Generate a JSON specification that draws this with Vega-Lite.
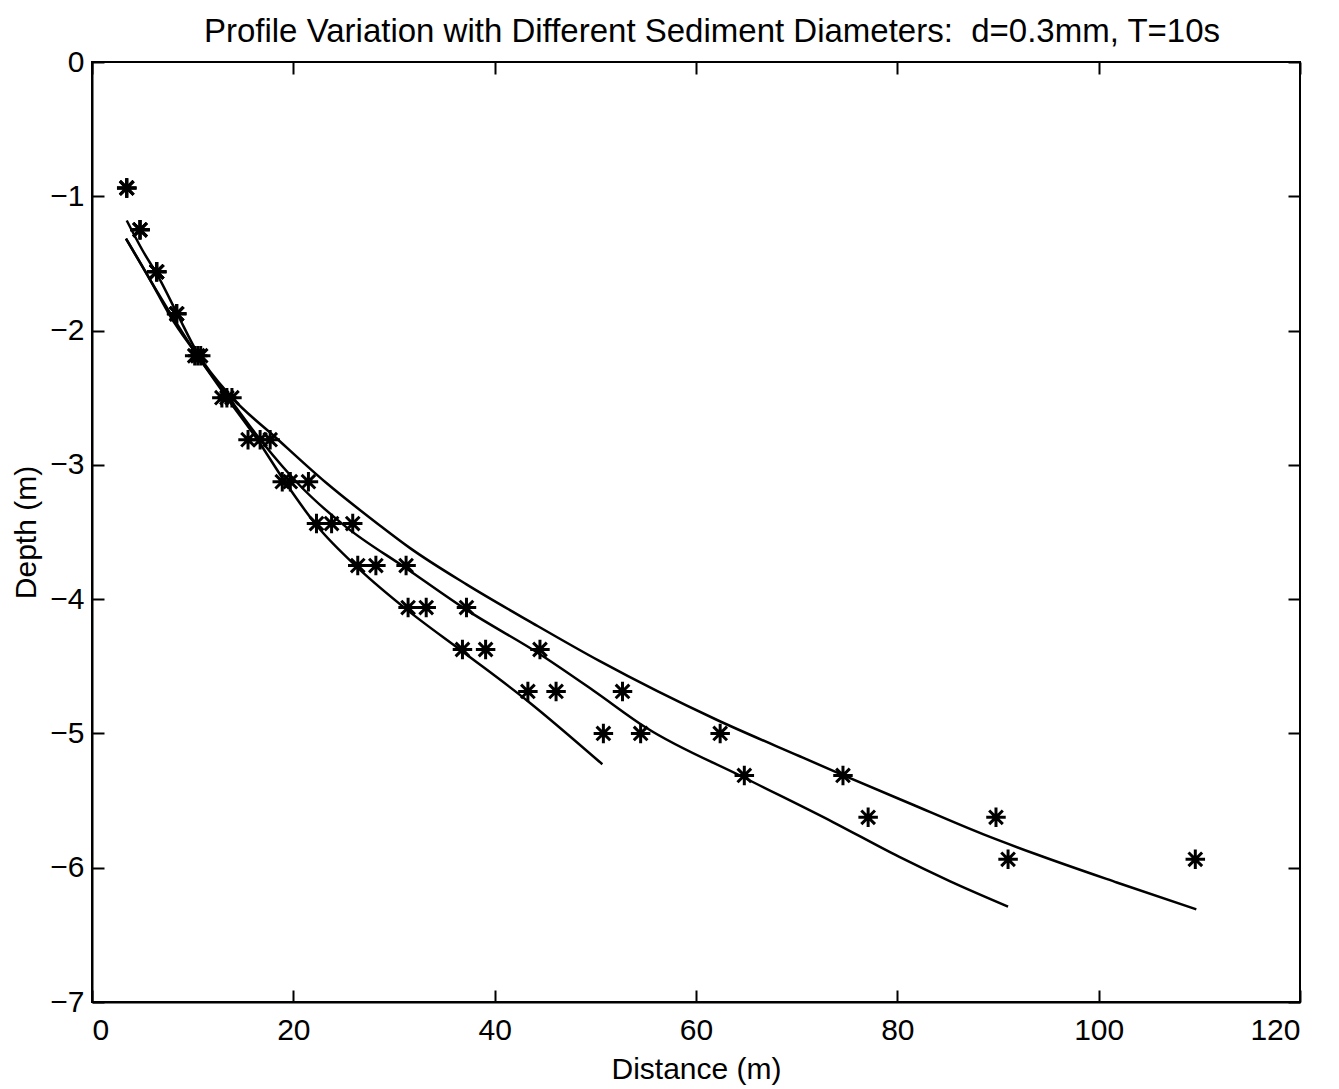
{
  "$schema": "https://vega.github.io/schema/vega-lite/v6.json",
  "width": 1208,
  "height": 940,
  "autosize": {"type": "none"},
  "padding": {"left": 92, "top": 62, "right": 39, "bottom": 87},
  "background": "white",
  "title": {
    "text": "Profile Variation with Different Sediment Diameters:\u00a0 d=0.3mm, T=10s",
    "font": "Liberation Sans",
    "fontSize": 33,
    "fontWeight": "normal",
    "color": "black",
    "offset": -2,
    "dx": 16
  },
  "config": {
    "view": {"stroke": "black", "strokeWidth": 2},
    "axis": {
      "grid": false,
      "domainColor": "black",
      "domainWidth": 2,
      "tickColor": "black",
      "tickWidth": 2,
      "tickSize": -12,
      "labelFont": "Liberation Sans",
      "labelFontSize": 30,
      "labelColor": "black",
      "titleFont": "Liberation Sans",
      "titleFontSize": 30,
      "titleFontWeight": "normal",
      "titleColor": "black"
    }
  },
  "datasets": {
    "lines": [
      {"curve": "1", "x": 3.38, "y": -1.316},
      {"curve": "1", "x": 5.76, "y": -1.62},
      {"curve": "1", "x": 7.75, "y": -1.89},
      {"curve": "1", "x": 10.5, "y": -2.19},
      {"curve": "1", "x": 13.4, "y": -2.5},
      {"curve": "1", "x": 16.5, "y": -2.82},
      {"curve": "1", "x": 19.2, "y": -3.13},
      {"curve": "1", "x": 22.3, "y": -3.45},
      {"curve": "1", "x": 26.6, "y": -3.78},
      {"curve": "1", "x": 31.3, "y": -4.08},
      {"curve": "1", "x": 36.8, "y": -4.39},
      {"curve": "1", "x": 43.3, "y": -4.76},
      {"curve": "1", "x": 50.7, "y": -5.23},
      {"curve": "2", "x": 3.38, "y": -1.316},
      {"curve": "2", "x": 5.76, "y": -1.62},
      {"curve": "2", "x": 7.94, "y": -1.89},
      {"curve": "2", "x": 10.5, "y": -2.19},
      {"curve": "2", "x": 13.6, "y": -2.5},
      {"curve": "2", "x": 16.9, "y": -2.83},
      {"curve": "2", "x": 20.6, "y": -3.15},
      {"curve": "2", "x": 25.2, "y": -3.46},
      {"curve": "2", "x": 31.2, "y": -3.77},
      {"curve": "2", "x": 37.2, "y": -4.08},
      {"curve": "2", "x": 44.5, "y": -4.41},
      {"curve": "2", "x": 49.8, "y": -4.68},
      {"curve": "2", "x": 55.1, "y": -4.96},
      {"curve": "2", "x": 64.8, "y": -5.33},
      {"curve": "2", "x": 73.6, "y": -5.66},
      {"curve": "2", "x": 80.2, "y": -5.92},
      {"curve": "2", "x": 85.2, "y": -6.1},
      {"curve": "2", "x": 91.0, "y": -6.29},
      {"curve": "3", "x": 3.45, "y": -1.18},
      {"curve": "3", "x": 5.0, "y": -1.4},
      {"curve": "3", "x": 6.6, "y": -1.6},
      {"curve": "3", "x": 8.5, "y": -1.88},
      {"curve": "3", "x": 10.5, "y": -2.17},
      {"curve": "3", "x": 13.8, "y": -2.49},
      {"curve": "3", "x": 18.3, "y": -2.8},
      {"curve": "3", "x": 23.2, "y": -3.13},
      {"curve": "3", "x": 28.4, "y": -3.44},
      {"curve": "3", "x": 31.6, "y": -3.62},
      {"curve": "3", "x": 37.2, "y": -3.89},
      {"curve": "3", "x": 43.8, "y": -4.18},
      {"curve": "3", "x": 50.4, "y": -4.46},
      {"curve": "3", "x": 62.1, "y": -4.9},
      {"curve": "3", "x": 70.3, "y": -5.17},
      {"curve": "3", "x": 74.6, "y": -5.31},
      {"curve": "3", "x": 81.2, "y": -5.52},
      {"curve": "3", "x": 88.5, "y": -5.75},
      {"curve": "3", "x": 93.8, "y": -5.9},
      {"curve": "3", "x": 101.8, "y": -6.11},
      {"curve": "3", "x": 109.7, "y": -6.31}
    ],
    "points": [
      {"series": "a", "x": 3.45, "y": -0.9375},
      {"series": "b", "x": 3.45, "y": -0.9375},
      {"series": "c", "x": 3.45, "y": -0.9375},
      {"series": "a", "x": 4.77, "y": -1.25},
      {"series": "b", "x": 4.77, "y": -1.25},
      {"series": "c", "x": 4.77, "y": -1.25},
      {"series": "a", "x": 6.43, "y": -1.5625},
      {"series": "b", "x": 6.43, "y": -1.5625},
      {"series": "c", "x": 6.43, "y": -1.5625},
      {"series": "a", "x": 8.41, "y": -1.875},
      {"series": "b", "x": 8.41, "y": -1.875},
      {"series": "c", "x": 8.41, "y": -1.875},
      {"series": "a", "x": 10.2, "y": -2.1875},
      {"series": "b", "x": 10.5, "y": -2.1875},
      {"series": "c", "x": 10.8, "y": -2.1875},
      {"series": "a", "x": 12.9, "y": -2.5},
      {"series": "b", "x": 13.4, "y": -2.5},
      {"series": "c", "x": 13.9, "y": -2.5},
      {"series": "a", "x": 15.5, "y": -2.8125},
      {"series": "b", "x": 16.7, "y": -2.8125},
      {"series": "c", "x": 17.7, "y": -2.8125},
      {"series": "a", "x": 18.9, "y": -3.125},
      {"series": "b", "x": 19.7, "y": -3.125},
      {"series": "c", "x": 21.5, "y": -3.125},
      {"series": "a", "x": 22.3, "y": -3.4375},
      {"series": "b", "x": 23.8, "y": -3.4375},
      {"series": "c", "x": 25.9, "y": -3.4375},
      {"series": "a", "x": 26.4, "y": -3.75},
      {"series": "b", "x": 28.2, "y": -3.75},
      {"series": "c", "x": 31.2, "y": -3.75},
      {"series": "a", "x": 31.4, "y": -4.0625},
      {"series": "b", "x": 33.2, "y": -4.0625},
      {"series": "c", "x": 37.2, "y": -4.0625},
      {"series": "a", "x": 36.8, "y": -4.375},
      {"series": "b", "x": 39.1, "y": -4.375},
      {"series": "c", "x": 44.5, "y": -4.375},
      {"series": "a", "x": 43.3, "y": -4.6875},
      {"series": "b", "x": 46.1, "y": -4.6875},
      {"series": "c", "x": 52.7, "y": -4.6875},
      {"series": "a", "x": 50.8, "y": -5.0},
      {"series": "b", "x": 54.5, "y": -5.0},
      {"series": "c", "x": 62.4, "y": -5.0},
      {"series": "b", "x": 64.8, "y": -5.3125},
      {"series": "c", "x": 74.6, "y": -5.3125},
      {"series": "b", "x": 77.1, "y": -5.625},
      {"series": "c", "x": 89.8, "y": -5.625},
      {"series": "b", "x": 91.0, "y": -5.9375},
      {"series": "c", "x": 109.6, "y": -5.9375}
    ]
  },
  "layer": [
    {
      "data": {"name": "lines"},
      "mark": {"type": "line", "color": "black", "strokeWidth": 2.5, "interpolate": "monotone"},
      "encoding": {
        "x": {
          "field": "x", "type": "quantitative",
          "scale": {"domain": [0, 120], "nice": false, "zero": false},
          "axis": {"orient": "top", "labels": false, "title": null, "domain": false, "values": [0, 20, 40, 60, 80, 100, 120]}
        },
        "y": {
          "field": "y", "type": "quantitative",
          "scale": {"domain": [-7, 0], "nice": false, "zero": false},
          "axis": {"orient": "right", "labels": false, "title": null, "domain": false, "values": [-7, -6, -5, -4, -3, -2, -1, 0]}
        },
        "detail": {"field": "curve"}
      }
    },
    {
      "data": {"name": "points"},
      "mark": {
        "type": "point",
        "shape": "M0,-1L0,1M-1,0L1,0M-0.7,-0.7L0.7,0.7M-0.7,0.7L0.7,-0.7",
        "size": 380,
        "stroke": "black",
        "strokeWidth": 3,
        "filled": false,
        "opacity": 1
      },
      "encoding": {
        "x": {
          "field": "x", "type": "quantitative",
          "scale": {"domain": [0, 120], "nice": false, "zero": false},
          "axis": {"orient": "bottom", "title": "Distance (m)", "values": [0, 20, 40, 60, 80, 100, 120], "labelPadding": 25, "titlePadding": 9}
        },
        "y": {
          "field": "y", "type": "quantitative",
          "scale": {"domain": [-7, 0], "nice": false, "zero": false},
          "axis": {"orient": "left", "title": "Depth (m)", "values": [-7, -6, -5, -4, -3, -2, -1, 0], "labelPadding": 20, "titlePadding": 8}
        }
      }
    }
  ],
  "resolve": {"axis": {"x": "independent", "y": "independent"}}
}
